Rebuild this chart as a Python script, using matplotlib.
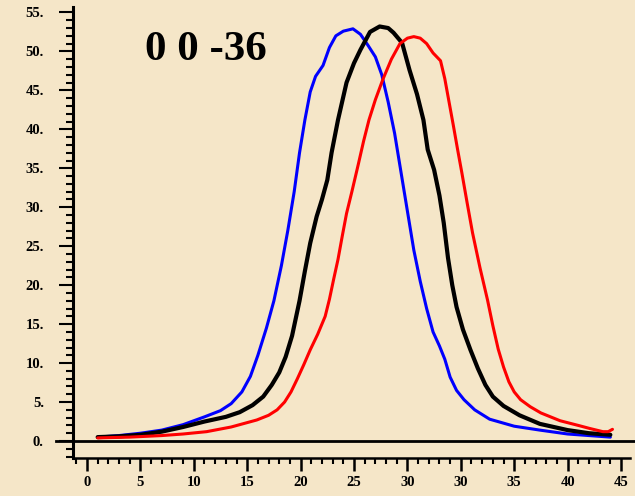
import matplotlib
matplotlib.use("Agg")
import matplotlib.pyplot as plt
from matplotlib.ticker import MultipleLocator

# data
blue_x = [1, 3, 5, 7, 9, 11, 12.5, 13.5, 14.5, 15.3, 16, 16.8, 17.5, 18.2, 18.8, 19.4, 19.9, 20.4,
          20.9, 21.4, 22.1, 22.7, 23.3, 24, 24.9, 25.6, 26.3, 27, 27.6, 28.2, 28.8, 29.4, 30,
          30.6, 31.2, 31.8, 32.4, 33, 33.5, 34, 34.6, 35.3, 36.3, 37.7, 40, 42.4, 45, 47, 49]
blue_y = [0.5, 0.7, 1.0, 1.4, 2.1, 3.1, 3.9, 4.8, 6.3, 8.3, 11, 14.5, 18, 22.5, 27, 32, 37, 41.2,
          44.8, 46.8, 48.2, 50.5, 52, 52.6, 52.9, 52.2, 50.8, 49.3, 47, 43.5, 39.5, 34.5, 29.5,
          24.5, 20.5, 17, 14, 12.2, 10.5, 8.2, 6.5, 5.3, 4.0, 2.8, 1.9, 1.4, 0.9, 0.7, 0.5]

black_x = [1, 3, 5, 7, 9, 11, 13, 14.3, 15.5, 16.5, 17.3, 18, 18.6, 19.2, 19.9, 20.4, 20.9, 21.5,
           22, 22.5, 22.9, 23.5, 24.3, 25, 25.6, 26.5, 27.4, 28.2, 28.7, 29.5, 30.2, 30.9, 31.5,
           31.9, 32.5, 33, 33.4, 33.8, 34.2, 34.6, 35.2, 35.9, 36.6, 37.3, 38, 39, 40.5, 42.4,
           45, 47, 49]
black_y = [0.5, 0.6, 0.8, 1.2, 1.8, 2.5, 3.1, 3.7, 4.6, 5.7, 7.2, 8.8, 10.8, 13.5, 18, 21.8, 25.4,
           28.8, 31, 33.5, 37, 41.2, 46, 48.5, 50.2, 52.5, 53.2, 53, 52.4, 51.1, 47.6, 44.5, 41.2,
           37.4, 34.8, 31.5, 28, 23.5, 20, 17.2, 14.3, 11.7, 9.3, 7.2, 5.7, 4.5, 3.3, 2.2, 1.4,
           1.0, 0.8]

red_x = [1, 4, 7, 9, 11.2, 13.5, 15.9, 17, 17.8, 18.5, 19.1, 19.7, 20.3, 20.9, 21.6, 22.3, 22.7,
         23.1, 23.5, 23.9, 24.3, 24.8, 25.4, 25.9, 26.4, 27, 27.7, 28.5, 29.3, 30, 30.6, 31.2,
         31.8, 32.4, 33.1, 33.5, 33.9, 34.3, 34.7, 35.1, 35.6, 36.1, 36.8, 37.5, 38, 38.5, 39,
         39.5, 40, 40.6, 41.5, 42.5, 44.3, 46, 47.1, 48.3, 48.8, 49.2]
red_y = [0.4, 0.5, 0.7, 0.9, 1.2, 1.8, 2.7, 3.3, 4.0, 5.0, 6.3, 8.0, 9.8, 11.7, 13.7, 16, 18.2,
         20.8, 23.3, 26.3, 29.2, 32, 35.5, 38.5, 41.2, 43.8, 46.4, 49, 51, 51.7, 51.9, 51.7, 51,
         49.8, 48.8, 46.5, 43.5, 40.5, 37.4, 34.4, 30.5, 26.7, 22.2, 18.1, 14.8, 11.8, 9.5, 7.6,
         6.3, 5.3, 4.4, 3.6, 2.6, 2.0, 1.6, 1.2, 1.2, 1.5]

x_ticks = [0, 5, 10, 15, 20, 25, 30, 35, 40, 45, 50]
x_labels = ["0", "5", "10", "15", "20", "25", "30", "30", "35", "40", "45"]
y_ticks = [0, 5, 10, 15, 20, 25, 30, 35, 40, 45, 50, 55]
title = "0 0 -36"

bg = "#F5E6C8"
serif = ["Liberation Serif", "DejaVu Serif"]

fig = plt.figure(figsize=(6.35, 4.96), dpi=100, facecolor=bg)
ax = fig.add_axes([73 / 635, 1 - 458 / 496, 557 / 635, 451 / 496], facecolor=bg)

style = dict(solid_joinstyle="round", solid_capstyle="round")
ax.plot(blue_x, blue_y, color="#0000FF", lw=2.2, **style)
ax.plot(black_x, black_y, color="black", lw=3.0, **style)
ax.plot(red_x, red_y, color="#FF0000", lw=2.2, **style)

# zero line reaching past the axis
ax.plot([-0.03, 1.01], [0, 0], color="black", lw=2.0,
        transform=ax.get_yaxis_transform(), clip_on=False)

ax.set_xlim(-1.31, 50.84)
ax.set_ylim(-2.18, 55.7)

for s in ["top", "right"]:
    ax.spines[s].set_visible(False)
ax.spines["left"].set_linewidth(2.2)
ax.spines["bottom"].set_linewidth(1.8)

ax.set_xticks(x_ticks)
ax.set_xticklabels(x_labels)
ax.set_yticks(y_ticks)
ax.set_yticklabels([f"{v}." for v in y_ticks])
ax.xaxis.set_minor_locator(MultipleLocator(1))
ax.yaxis.set_minor_locator(MultipleLocator(1))

ax.tick_params(axis="y", which="major", direction="out", length=10, width=1.5, pad=11)
ax.tick_params(axis="y", which="minor", direction="out", length=5, width=1.5)
ax.tick_params(axis="x", which="major", direction="out", length=9, width=1.8, pad=4)
ax.tick_params(axis="x", which="minor", direction="out", length=4.5, width=1.5)

for lab in ax.get_xticklabels() + ax.get_yticklabels():
    lab.set_family(serif)
    lab.set_fontweight("bold")
    lab.set_fontsize(10.5)

fig.text(145 / 635, 1 - 50 / 496, title, family=serif, fontweight="bold",
         fontsize=31, ha="left", va="center")

fig.savefig("out.png", dpi=100, facecolor=bg)
